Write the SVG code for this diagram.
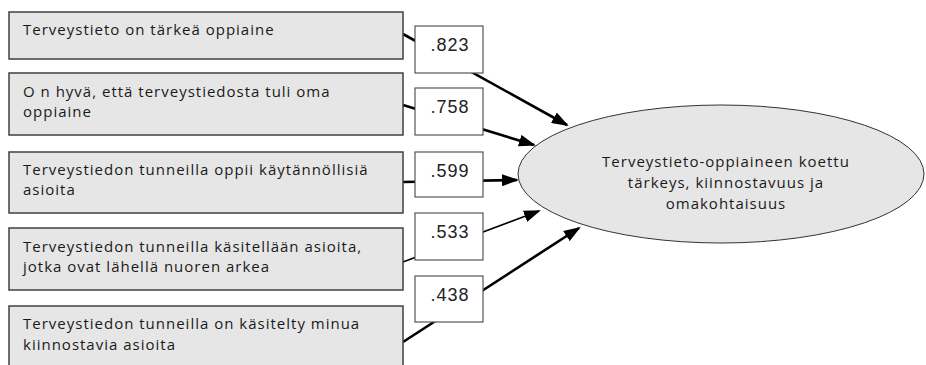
<svg xmlns="http://www.w3.org/2000/svg" width="926" height="365" viewBox="0 0 926 365">
<defs>
<style>
.item rect{fill:#e6e6e6;stroke:#404040;stroke-width:1.5}
.item text{font-family:"Open Sans","DejaVu Sans",sans-serif;font-size:15px;letter-spacing:1px;fill:#1a1a1a}
.coef rect{fill:#fff;stroke:#555;stroke-width:1.2}
.coef text{font-family:"Liberation Sans",Arial,sans-serif;font-size:18px;letter-spacing:1px;fill:#222;text-anchor:middle}
.conn line{stroke:#000;stroke-width:2.6;marker-end:url(#arr)}
.conn line.thin{stroke-width:1.6}
.latent ellipse{fill:#e6e6e6;stroke:#333;stroke-width:1}
.latent text{font-family:"Open Sans","DejaVu Sans",sans-serif;font-size:15px;letter-spacing:1px;fill:#1a1a1a;text-anchor:middle}
</style>
<marker id="arr" markerUnits="userSpaceOnUse" markerWidth="17" markerHeight="12" refX="15" refY="6" orient="auto"><path d="M0,0 L17,6 L0,12 Z" fill="#000"/></marker>
</defs>
<g id="connectors" class="conn">
<line x1="403" y1="34" x2="567" y2="125"/>
<line x1="403" y1="105" x2="534" y2="145"/>
<line x1="403" y1="182" x2="517" y2="180"/>
<line class="thin" x1="403" y1="262" x2="539" y2="211"/>
<line x1="403" y1="342" x2="579" y2="228"/>
</g>
<g id="latent" class="latent">
<ellipse cx="721" cy="174" rx="203" ry="69"/>
<text x="726" y="167">Terveystieto-oppiaineen koettu</text>
<text x="726" y="188">tärkeys, kiinnostavuus ja</text>
<text x="726" y="209">omakohtaisuus</text>
</g>
<g id="item1" class="item">
<rect x="9" y="12" width="394" height="47"/>
<text x="23" y="35">Terveystieto on tärkeä oppiaine</text>
</g>
<g id="item2" class="item">
<rect x="9" y="73" width="394" height="62"/>
<text x="23" y="97">O n hyvä, että terveystiedosta tuli oma</text>
<text x="23" y="117">oppiaine</text>
</g>
<g id="item3" class="item">
<rect x="9" y="152" width="394" height="61"/>
<text x="23" y="175">Terveystiedon tunneilla oppii käytännöllisiä</text>
<text x="23" y="195">asioita</text>
</g>
<g id="item4" class="item">
<rect x="9" y="228" width="394" height="62"/>
<text x="23" y="252">Terveystiedon tunneilla käsitellään asioita,</text>
<text x="23" y="272">jotka ovat lähellä nuoren arkea</text>
</g>
<g id="item5" class="item">
<rect x="9" y="306" width="394" height="70"/>
<text x="23" y="329">Terveystiedon tunneilla on käsitelty minua</text>
<text x="23" y="350">kiinnostavia asioita</text>
</g>
<g id="coef1" class="coef">
<rect x="415" y="26" width="68" height="47"/>
<text x="450" y="51">.823</text>
</g>
<g id="coef2" class="coef">
<rect x="415" y="88" width="68" height="47"/>
<text x="450" y="113">.758</text>
</g>
<g id="coef3" class="coef">
<rect x="415" y="152" width="68" height="45"/>
<text x="450" y="177">.599</text>
</g>
<g id="coef4" class="coef">
<rect x="415" y="213" width="68" height="47"/>
<text x="450" y="238">.533</text>
</g>
<g id="coef5" class="coef">
<rect x="415" y="276" width="68" height="46"/>
<text x="450" y="301">.438</text>
</g>
</svg>
